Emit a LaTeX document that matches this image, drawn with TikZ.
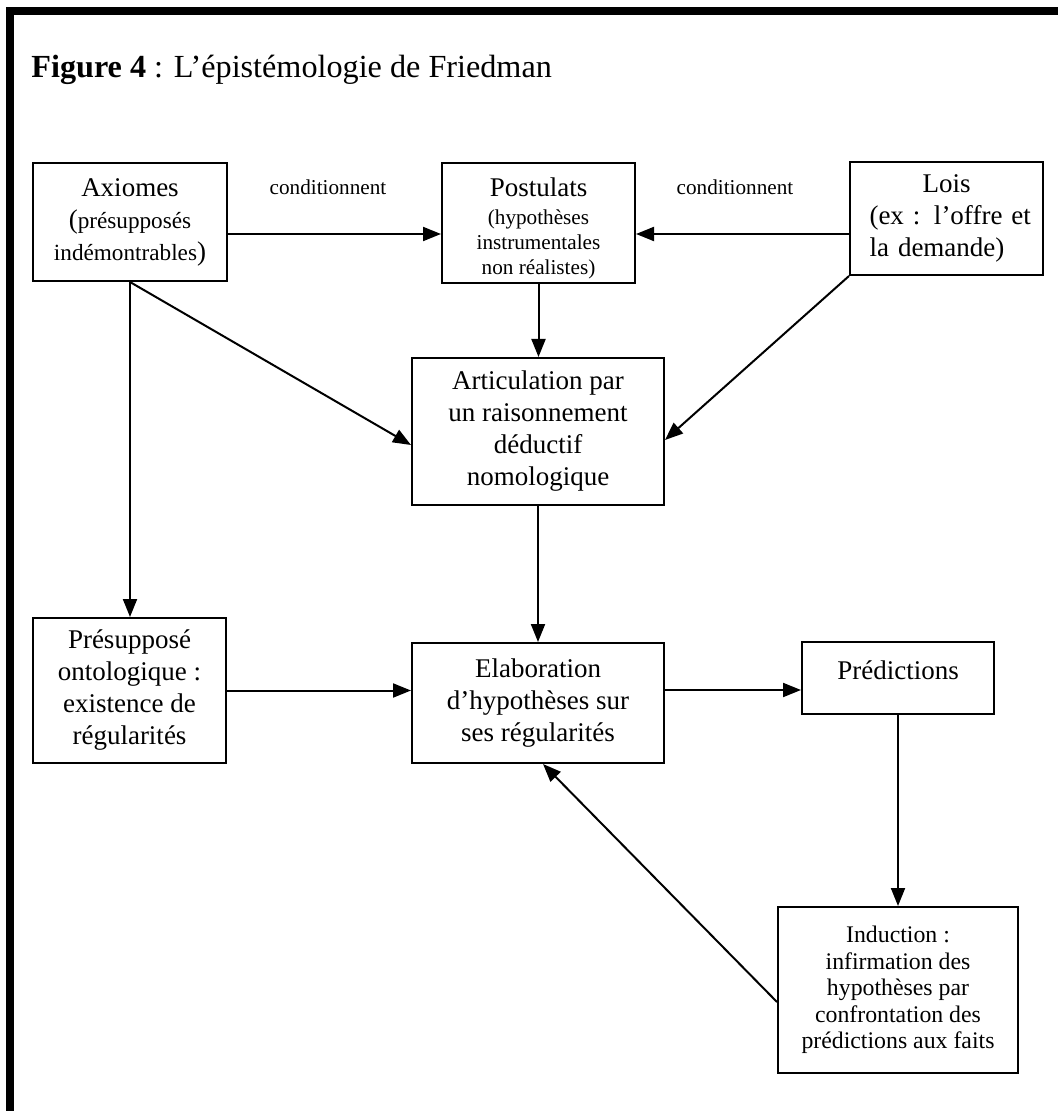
\documentclass[tikz,border=0pt]{standalone}
\usepackage{fontspec}
\setmainfont{Liberation Serif}
\usetikzlibrary{arrows.meta}
\newcommand{\bigtxt}{\fontsize{13.5}{16}\selectfont}
\newcommand{\midtxt}{\fontsize{11.6}{16}\selectfont}
\newcommand{\smalltxt}{\fontsize{10.6}{12.3}\selectfont}
\newcommand{\indtxt}{\fontsize{11.9}{13.2}\selectfont}
\begin{document}
\begin{tikzpicture}[x=0.5pt,y=-0.5pt,
  box/.style={draw, line width=1pt, rectangle, inner sep=0pt, align=center, font=\bigtxt},
  txt/.style={inner sep=0pt, align=center},
  arr/.style={line width=1pt, -{Triangle[length=9pt,width=7pt]}},
  lbl/.style={font=\fontsize{10.6}{12}\selectfont, inner sep=0pt}]
\useasboundingbox (0,0) rectangle (1058,1111);
\fill[white] (0,0) rectangle (1058,1111);
% heavy frame (top and left bars)
\fill[black] (6,7) rectangle (1058,15);
\fill[black] (6,7) rectangle (14,1111);

% title
\node[anchor=base west, inner sep=0pt, font=\fontsize{16.1}{20}\selectfont] (title) at (31,78)
  {\textbf{Figure 4} : L’épistémologie de Friedman};

% boxes
\node[box, minimum width=97pt, minimum height=59pt] (ax) at (130,222)
  {Axiomes\\ {\midtxt{\bigtxt(}présupposés}\\ {\midtxt indémontrables{\bigtxt)}}};
\node[box, minimum width=96.5pt, minimum height=60pt] (po) at (538.5,223) {};
\node[txt, font=\smalltxt] (pot) at (538.5,228)
  {{\bigtxt Postulats}\\[2pt] (hypothèses\\ instrumentales\\ non réalistes)};
\node[box, minimum width=96.5pt, minimum height=56.5pt, text width=77pt, align=left] (lo) at (946.5,218.5)
  {\makebox[77pt]{Lois}\\ \makebox[77pt][s]{(ex : l’offre et}\\ la demande)};
\node[box, minimum width=126pt, minimum height=73.5pt] (ar) at (538,431.5)
  {Articulation par\\ un raisonnement\\ déductif\\ nomologique};
\node[box, minimum width=126pt, minimum height=60pt] (el) at (538,703)
  {Elaboration\\ d’hypothèses sur\\ ses régularités};
\node[box, minimum width=96.5pt, minimum height=72.5pt] (ps) at (129.5,690.5)
  {Présupposé\\ ontologique :\\ existence de\\ régularités};
\node[box, minimum width=96pt, minimum height=36pt] (pd) at (898,678) {};
\node[txt, font=\bigtxt] (pdt) at (898,670) {Prédictions};
\node[box, minimum width=120pt, minimum height=83pt, font=\indtxt] (in) at (898,990)
  {Induction :\\ infirmation des\\ hypothèses par\\ confrontation des\\ prédictions aux faits};

% edge labels
\node[lbl] (c1) at (328,187) {conditionnent};
\node[lbl] (c2) at (735,187) {conditionnent};

% connectors
\draw[arr] ([yshift=-6pt]ax.east) -- ([yshift=-6pt]ax.east -| po.west);
\draw[arr] ([yshift=-7.75pt]lo.west) -- ([yshift=-7.75pt]lo.west -| po.east);
\draw[arr] (po.south) -- (po.south |- ar.north);
\draw[arr] (ax.south) -- ([yshift=-6.75pt]ar.west);
\draw[arr] (lo.south west) -- ([yshift=-4.25pt]ar.east);
\draw[arr] (ax.south) -- (ax.south |- ps.north);
\draw[arr] (ar.south) -- (el.north);
\draw[arr] (ps.east) -- (ps.east -| el.west);
\draw[arr] ([yshift=6.5pt]el.east) -- ([yshift=6.5pt]el.east -| pd.west);
\draw[arr] (pd.south) -- (in.north);
\draw[arr] ([yshift=-6pt]in.west) -- ([xshift=2.5pt]el.south);
\end{tikzpicture}
\end{document}
